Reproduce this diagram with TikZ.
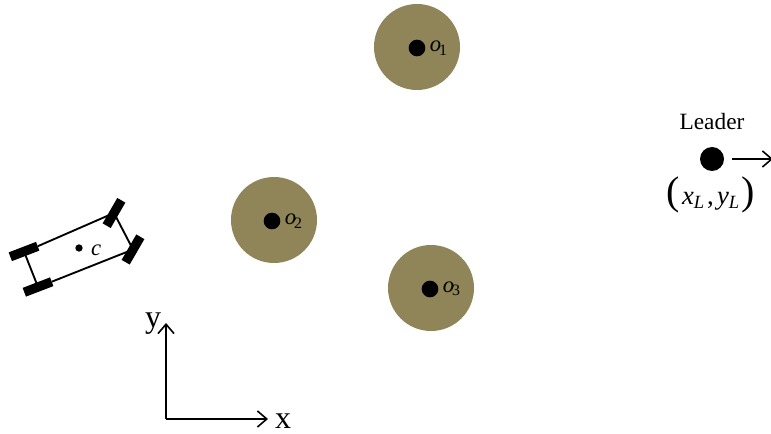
\documentclass[tikz,border=0pt]{standalone}
\usepackage{fontspec}
\setmainfont{Liberation Serif}
\usepackage{xcolor}
\definecolor{obstacleOlive}{HTML}{8F8558}
\usetikzlibrary{
    arrows.meta,
    positioning
}
\tikzset{
    % Obstacle discs
    obstacle/.style={
        circle,
        fill=obstacleOlive,
        minimum size=64.5pt,
        inner sep=0pt,
    },
    % Black dots - centre of obstacle, leader
    blackdot/.style={
        circle,
        fill=black,
        minimum size=12.5pt,
        inner sep=0pt,
    },
    % Small dot - car centre
    cardot/.style={
        circle,
        fill=black,
        minimum size=5.5pt,
        inner sep=0pt,
    },
    % Car wheels
    wheel/.style={
        rectangle,
        fill=black,
        minimum width=22pt,
        minimum height=7pt,
        inner sep=0pt,
    },
    % Car body lines
    body/.style={
        line width=1.4pt,
        draw=black,
    },
    % Open arrow style
    arrow/.style={
        -{Straight Barb[length=7pt, width=12pt, line width=1.2pt]},
        line width=1.2pt,
        draw=black,
    },
    % Text labels
    mathlabel/.style={
        font=\fontsize{17}{17}\selectfont\itshape,
        inner sep=0pt,
    },
    axislabel/.style={
        font=\fontsize{24}{24}\selectfont,
        inner sep=0pt,
    },
}

\begin{document}
\begin{tikzpicture}[x=0.75pt, y=-0.75pt]
    \useasboundingbox (0,0) rectangle (771,434);

    % obstacles
    \node (obs1) [obstacle] at (417,47) {};
    \node (obs2) [obstacle] at (274,220) {};
    \node (obs3) [obstacle] at (431,288) {};
    \node (dot1) [blackdot] at (417,48) {};
    \node (dot2) [blackdot] at (272,221) {};
    \node (dot3) [blackdot] at (430,289) {};
    \node (lab1) [mathlabel, right=3pt of dot1] {o\kern-1.5pt\textsubscript{\upshape 1}};
    \node (lab2) [mathlabel, right=3pt of dot2] {o\kern-1.5pt\textsubscript{\upshape 2}};
    \node (lab3) [mathlabel, right=3pt of dot3] {o\kern-1.5pt\textsubscript{\upshape 3}};

    % leader
    \node (leader) [blackdot, minimum size=18pt] at (712,159) {};
    \node (leadername) [font=\fontsize{17.5}{17.5}\selectfont, inner sep=0pt] at (712,122) {Leader};
    \node (leaderpos) [font=\fontsize{20}{20}\selectfont\itshape, inner sep=0pt] at (711,195)
        {{\fontsize{30}{30}\selectfont\upshape(}\kern1.5pt x\textsubscript{L}\kern1.5pt{\upshape,}\kern2.5pt y\textsubscript{L}\kern1.5pt{\fontsize{30}{30}\selectfont\upshape)}};
    \coordinate (leadertip) at (773,159);
    \draw [arrow] (leader) ++(20,0) coordinate (leadertail) (leadertail) -- (leadertip);

    % car
    \node (wheelrl) [wheel, rotate=21] at (24,251.5) {};
    \node (wheelrr) [wheel, rotate=21] at (38,287) {};
    \node (wheelfl) [wheel, rotate=60] at (114,213) {};
    \node (wheelfr) [wheel, rotate=60] at (133,249.5) {};
    \node (carc) [cardot] at (79,248) {};
    \node (carlab) [mathlabel, right=6pt of carc, yshift=-1.5pt] {c};
    \draw [body] (wheelrl.center) -- (wheelrr.center);
    \draw [body] (wheelfl.center) -- (wheelfr.center);
    \draw [body] (wheelrl.east) -- (wheelfl.center);
    \draw [body] (wheelrr.east) -- (wheelfr.center);

    % axes
    \coordinate (origin) at (166,419);
    \node (ylab) [axislabel] at (153,324) {y};
    \node (xlab) [axislabel] at (283,421) {x};
    \draw [arrow] (origin) -- (166,323) coordinate (ytip);
    \draw [arrow] (origin) -- (268,419) coordinate (xtip);
\end{tikzpicture}
\end{document}
